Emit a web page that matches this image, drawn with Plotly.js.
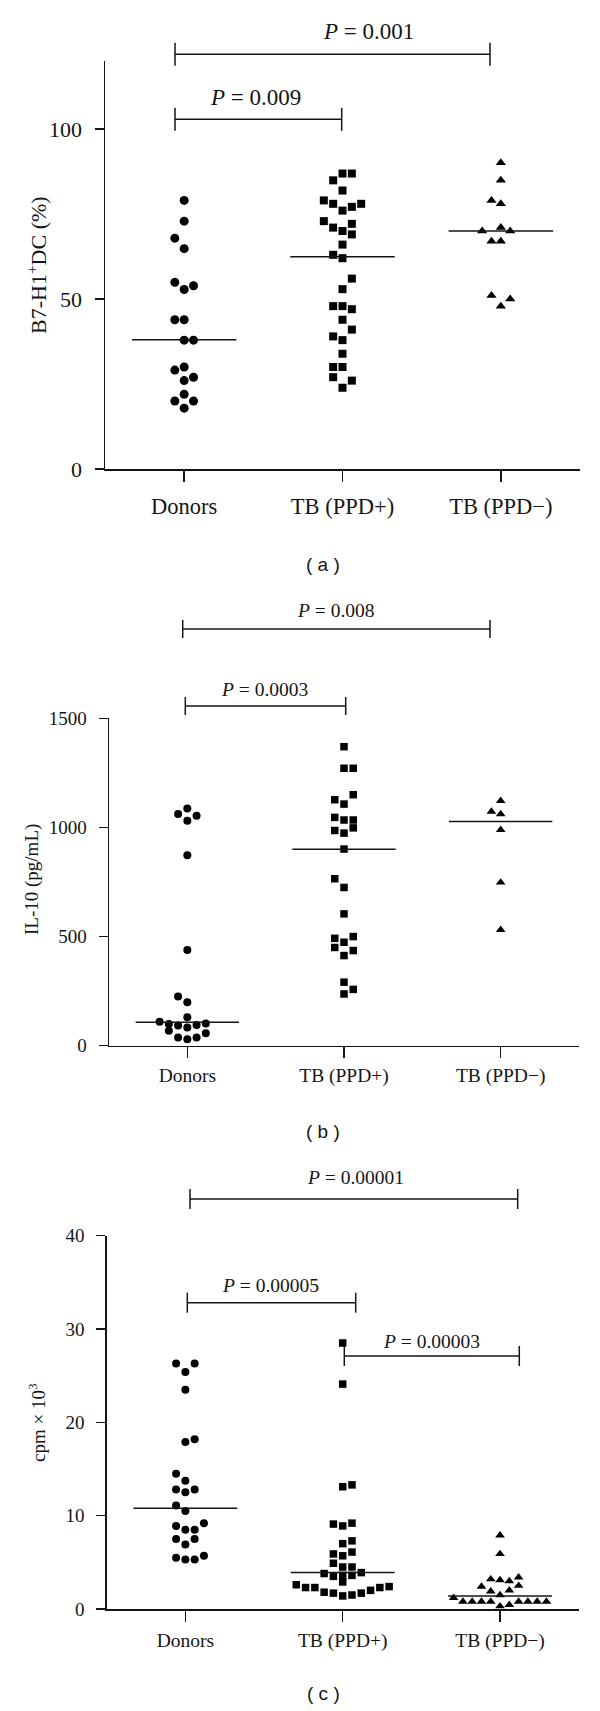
<!DOCTYPE html>
<html><head><meta charset="utf-8">
<script src="https://cdn.plot.ly/plotly-3.0.1.min.js"></script>
<style>html,body{margin:0;padding:0;background:#fff}#chart{width:600px;height:1711px}</style>
</head><body><div id="chart"></div>
<script>
// ---------------- DATA ----------------
const categories = ['Donors', 'TB (PPD+)', 'TB (PPD\u2212)'];

// (a) B7-H1+DC (%)
const aDonors = [79.0, 72.9, 67.9, 64.8, 54.9, 53.9, 52.8, 43.9, 43.9, 37.9, 37.9, 29.1, 30.0, 27.0, 26.0, 22.0, 20.0, 20.0, 17.9];
const aDonorsCol = [0, 0, -1, 0, -1, 1, 0, -1, 0, 0, 1, -1, 0, 1, 0, 0, -1, 1, 0];
const aPos = [86.9, 86.9, 84.9, 81.9, 79.0, 78.0, 77.1, 78.0, 76.0, 72.9, 72.1, 71.0, 70.0, 69.0, 66.0, 63.0, 62.0, 56.0, 52.9, 47.9, 47.9, 47.0, 43.9, 41.0, 39.0, 37.9, 33.9, 30.0, 30.0, 27.0, 26.0, 23.9];
const aPosCol = [0, 1, -1, 0, -2, -1, 1, 2, 0, -2, 1, -1, 0, 1, 0, -1, 0, 1, 0, -1, 0, 1, 0, 1, -1, 0, 0, -1, 0, -1, 1, 0];
const aNeg = [90.1, 84.9, 79.0, 78.0, 70.0, 71.0, 70.0, 67.0, 67.0, 51.0, 50.0, 47.9];
const aNegCol = [0, 0, -1, 0, -2, 0, 1, -1, 0, -1, 1, 0];
const aMedians = [38, 62.4, 70];

// (b) IL-10 (pg/mL)
const bDonors = [1087, 1061, 1054, 1031, 872, 439, 225, 199, 130, 110, 99, 92, 83, 95, 102, 69, 37, 29, 37, 57];
const bDonorsCol = [0, -1, 1, 0, 0, 0, -1, 0, 0, -3, -2, -1, 0, 1, 2, -2, -1, 0, 1, 2];
const bPos = [1370, 1271, 1271, 1150, 1127, 1107, 1046, 1034, 1034, 998, 986, 974, 901, 765, 725, 604, 492, 500, 474, 450, 436, 413, 291, 258, 237];
const bPosCol = [0, 0, 1, 1, -1, 0, -1, 0, 1, 1, -1, 0, 0, -1, 0, 0, -1, 1, 0, -1, 1, 0, 0, 1, 0];
const bNeg = [1122, 1073, 1061, 989, 748, 531];
const bNegCol = [0, -1, 0, 0, 0, 0];
const bMedians = [107, 900, 1027];

// (c) cpm x 10^3
const cDonors = [26.3, 26.3, 25.4, 23.5, 17.9, 18.2, 14.5, 13.75, 12.8, 12.8, 12.5, 11.1, 10.5, 9.2, 8.9, 8.5, 8.5, 7.5, 7.5, 6.9, 5.5, 5.3, 5.3, 5.7];
const cDonorsCol = [-1, 1, 0, 0, 0, 1, -1, 0, -1, 1, 0, -1, 0, 2, -1, 0, 1, -1, 1, 0, -1, 0, 1, 2];
const cPos = [28.5, 24.1, 13.1, 13.3, 9.1, 8.9, 9.2, 7.0, 7.3, 5.9, 5.7, 6.1,
              4.9, 4.5, 4.5, 3.8, 3.5, 3.6, 3.6, 3.9, 2.9,
              2.6, 2.3, 2.3, 1.8, 1.7, 1.4, 1.5, 1.7, 2.0, 2.3, 2.4];
const cPosCol = [0, 0, 0, 1, -1, 0, 1, 0, 1, -1, 0, 1,
                 -1, 0, 1, -2, -1, 0, 1, 2, 0,
                 -5, -4, -3, -2, -1, 0, 1, 2, 3, 4, 5];
const cNeg = [7.9, 5.9, 3.2, 3.1, 3.0, 3.4, 2.4, 2.5, 1.9, 1.5, 2.0, 1.2, 0.8, 0.8, 0.8, 0.8, 0.8, 0.8, 0.8, 0.8, 0.3, 0.45];
const cNegCol = [0, 0, -1, 0, 1, 2, -2, 2, -1, 0, 1, -5, -4, -3, -2, -1, 2, 3, 4, 5, 0, 1];
const cMedians = [10.8, 3.9, 1.39];

const aTicks = [0, 50, 100];
const bTicks = [0, 500, 1000, 1500];
const cTicks = [0, 10, 20, 30, 40];
const aRange = [0, 120];
const bRange = [0, 1500];
const cRange = [0, 40];

const pTexts = {
  a: ['0.001', '0.009'],
  b: ['0.008', '0.0003'],
  c: ['0.00001', '0.00005', '0.00003']
};

// ---------------- LAYOUT HELPERS ----------------
const W = 600, H = 1711;
const px = v => v / W;
const py = v => 1 - v / H;
const STEP = 0.059;   // horizontal jitter step (category units)
const HALF = 0.33;    // half width of median bar
const INK = '#151515';
const SERIF = "'Liberation Serif', 'Times New Roman', serif";
const SANS = "'Liberation Sans', Arial, sans-serif";

const geo = [
  {x0: 105, x1: 580, yTop: 61, yBot: 469, fs: 22.5, yfs: 22, so: 5},
  {x0: 109, x1: 579, yTop: 718.3, yBot: 1045.7, fs: 19.5, yfs: 19, so: 0},
  {x0: 106.7, x1: 578.7, yTop: 1235.7, yBot: 1609, fs: 19.5, yfs: 19, so: 2}
];

function pts(vals, cols, cat, ax, symbol, size) {
  return {
    type: 'scatter', mode: 'markers',
    x: vals.map((v, i) => cat + cols[i] * STEP), y: vals,
    xaxis: 'x' + ax, yaxis: 'y' + ax,
    marker: {symbol: symbol, size: size, color: '#000', line: {width: 0}},
    cliponaxis: false, showlegend: false, hoverinfo: 'y'
  };
}
function med(meds, ax) {
  const x = [], y = [];
  meds.forEach((m, i) => { x.push(i - HALF, i + HALF, null); y.push(m, m, null); });
  return {type: 'scatter', mode: 'lines', x: x, y: y, xaxis: 'x' + ax, yaxis: 'y' + ax,
          line: {color: INK, width: 1.5}, showlegend: false, hoverinfo: 'skip', cliponaxis: false};
}

const traces = [
  pts(aDonors, aDonorsCol, 0, '', 'circle', 9),
  pts(aPos, aPosCol, 1, '', 'square', 8),
  pts(aNeg, aNegCol, 2, '', 'triangle-up', 9),
  med(aMedians, ''),
  pts(bDonors, bDonorsCol, 0, '2', 'circle', 8),
  pts(bPos, bPosCol, 1, '2', 'square', 7.5),
  pts(bNeg, bNegCol, 2, '2', 'triangle-up', 8.5),
  med(bMedians, '2'),
  pts(cDonors, cDonorsCol, 0, '3', 'circle', 8),
  pts(cPos, cPosCol, 1, '3', 'square', 7.5),
  pts(cNeg, cNegCol, 2, '3', 'triangle-up', 8.5),
  med(cMedians, '3')
];

function xax(g, anchor) {
  return {domain: [px(g.x0), px(g.x1)], anchor: anchor, range: [-0.5, 2.5],
          tickvals: [0, 1, 2], ticktext: categories, showline: true, linecolor: INK, linewidth: 1.5,
          ticks: 'outside', ticklen: 11, tickwidth: 1.5, tickcolor: INK, showgrid: false, zeroline: false,
          tickfont: {family: SERIF, size: g.fs, color: INK}, ticklabelstandoff: g.so, fixedrange: true};
}
function yax(g, anchor, ticks, range) {
  return {domain: [py(g.yBot), py(g.yTop)], anchor: anchor, range: range,
          tickvals: ticks, showline: true, linecolor: INK, linewidth: 1.5,
          ticks: 'outside', ticklen: 9, tickwidth: 1.5, tickcolor: INK, showgrid: false, zeroline: false,
          tickfont: {family: SERIF, size: g.yfs, color: INK}, ticklabelstandoff: 8, fixedrange: true};
}

// brackets: [x0, x1, y, tickHalf, textX, textY, text, panel]
const brackets = [
  [175, 490, 54.3, 11.5, 368, 32, pTexts.a[0], 0],
  [175, 341.7, 119.3, 11.5, 255, 98, pTexts.a[1], 0],
  [182.7, 490, 629, 9, 336, 610, pTexts.b[0], 1],
  [185.3, 345.7, 706, 9, 264, 690, pTexts.b[1], 1],
  [190, 517.7, 1199, 10, 355, 1177, pTexts.c[0], 2],
  [187.3, 355.7, 1302.7, 10, 270, 1285, pTexts.c[1], 2],
  [344.3, 519.3, 1356, 10, 431, 1341, pTexts.c[2], 2]
];
const shapes = [], annotations = [];
const lineStyle = {color: INK, width: 1.5};
brackets.forEach(b => {
  const [x0, x1, y, h, tx, ty, t, p] = b;
  shapes.push({type: 'line', xref: 'paper', yref: 'paper', x0: px(x0), x1: px(x1), y0: py(y), y1: py(y), line: lineStyle});
  shapes.push({type: 'line', xref: 'paper', yref: 'paper', x0: px(x0), x1: px(x0), y0: py(y - h), y1: py(y + h), line: lineStyle});
  shapes.push({type: 'line', xref: 'paper', yref: 'paper', x0: px(x1), x1: px(x1), y0: py(y - h), y1: py(y + h), line: lineStyle});
  annotations.push({xref: 'paper', yref: 'paper', x: px(tx), y: py(ty), xanchor: 'center', yanchor: 'middle',
    text: '<i>P</i> = ' + t, showarrow: false, font: {family: SERIF, size: geo[p].fs + (p === 0 ? 0.5 : 0), color: INK}});
});

// y titles
[['B7-H1<sup>+</sup>DC (%)', 37, 265, 22], ['IL-10 (pg/mL)', 32, 880, 19], ['cpm \u00d7 10<sup>3</sup>', 37, 1423, 19]].forEach(t => {
  annotations.push({xref: 'paper', yref: 'paper', x: px(t[1]), y: py(t[2]), xanchor: 'center', yanchor: 'middle',
    text: t[0], textangle: -90, showarrow: false, font: {family: SERIF, size: t[3], color: INK}});
});
// panel labels
[['( a )', 564], ['( b )', 1131], ['( c )', 1693]].forEach(t => {
  annotations.push({xref: 'paper', yref: 'paper', x: px(323), y: py(t[1]), xanchor: 'center', yanchor: 'middle',
    text: t[0], showarrow: false, font: {family: SANS, size: 19, color: INK}});
});

const layout = {
  width: W, height: H, margin: {l: 0, r: 0, t: 0, b: 0},
  paper_bgcolor: '#fff', plot_bgcolor: 'rgba(0,0,0,0)', showlegend: false,
  xaxis: xax(geo[0], 'y'), yaxis: yax(geo[0], 'x', aTicks, aRange),
  xaxis2: xax(geo[1], 'y2'), yaxis2: yax(geo[1], 'x2', bTicks, bRange),
  xaxis3: xax(geo[2], 'y3'), yaxis3: yax(geo[2], 'x3', cTicks, cRange),
  shapes: shapes, annotations: annotations
};

Plotly.newPlot('chart', traces, layout, {displayModeBar: false, staticPlot: true});
</script>
</body></html>
